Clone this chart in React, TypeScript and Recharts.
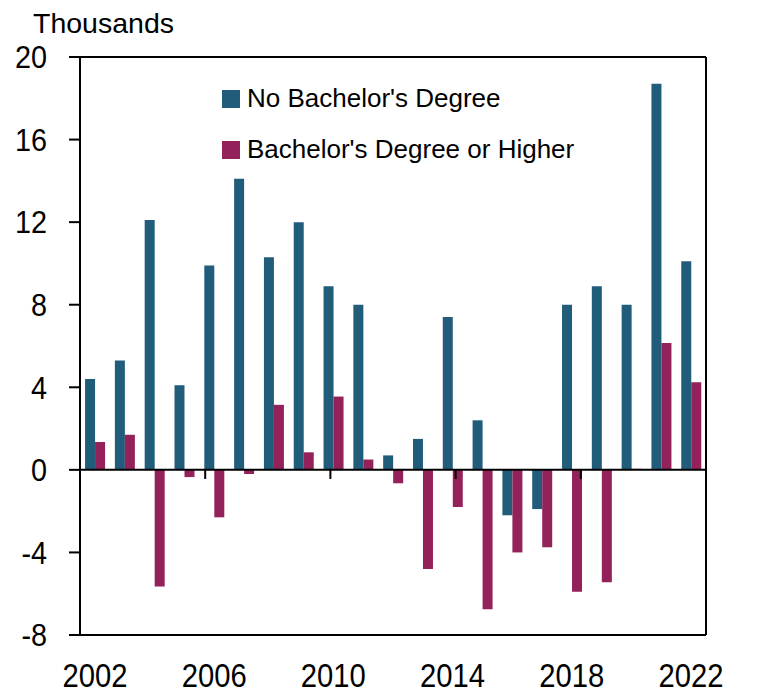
import React from 'react';
import { ComposedChart, Bar, XAxis, YAxis, ReferenceLine, Legend } from 'recharts';

const YEARS = ['2002', '2003', '2004', '2005', '2006', '2007', '2008', '2009', '2010', '2011', '2012', '2013', '2014', '2015', '2016', '2017', '2018', '2019', '2020', '2021', '2022'];
const NO_BACHELOR = [4.4, 5.3, 12.1, 4.1, 9.9, 14.1, 10.3, 12.0, 8.9, 8.0, 0.7, 1.5, 7.4, 2.4, -2.2, -1.9, 8.0, 8.9, 8.0, 18.7, 10.1];
const BACHELOR_PLUS = [1.35, 1.7, -5.65, -0.35, -2.3, -0.2, 3.15, 0.85, 3.55, 0.5, -0.65, -4.8, -1.8, -6.75, -4.0, -3.75, -5.9, -5.45, 0.05, 6.15, 4.25];
const Y_TICKS = [-8, -4, 0, 4, 8, 12, 16, 20];
const X_LABELS = ['2002', '2006', '2010', '2014', '2018', '2022'];
const SERIES_NAMES = ["No Bachelor's Degree", "Bachelor's Degree or Higher"];
const COLORS = ['#215C7A', '#93215A'];

const data = YEARS.map((year, i) => ({ year, noBachelor: NO_BACHELOR[i], bachelorPlus: BACHELOR_PLUS[i] }));
const boundaryTicks = YEARS.map((y, i) => (X_LABELS.includes(y) && i > 0 ? i : -1)).filter((v) => v >= 0);

const SANS = "'Liberation Sans', Arial, sans-serif";

const squeeze = (x: number, s: number) => `translate(${x},0) scale(${s},1) translate(${-x},0)`;

const YTick = (props: any) => {
  const { x, y, payload, textAnchor } = props;
  return (
    <text x={x} y={y} dy="0.355em" textAnchor={textAnchor} fill="#000" fontSize={32} fontFamily={SANS} transform={squeeze(x, 0.9)}>
      {payload.value}
    </text>
  );
};

const XTick = (props: any) => {
  const { x, y, payload } = props;
  return (
    <text x={x} y={y + 20} textAnchor="middle" fill="#000" fontSize={34} fontFamily={SANS} transform={squeeze(x, 0.86)}>
      {payload.value}
    </text>
  );
};

const LegendContent = (props: any) => {
  const payload = [...(props.payload || [])].sort(
    (a: any, b: any) => SERIES_NAMES.indexOf(a.value) - SERIES_NAMES.indexOf(b.value)
  );
  return (
    <div style={{ fontFamily: SANS, fontSize: 26, color: '#000' }}>
      {payload.map((p: any) => (
        <div key={p.value} style={{ display: 'flex', alignItems: 'center', height: 51, whiteSpace: 'nowrap' }}>
          <div style={{ width: 18, height: 18, background: p.color, marginRight: 7 }} />
          <span>{p.value}</span>
        </div>
      ))}
    </div>
  );
};

export default function App() {
  return (
    <div style={{ position: 'relative', width: 760, height: 687 }}>
      <div style={{ position: 'absolute', left: 25, top: 1, fontFamily: SANS, fontSize: 28.5, lineHeight: '28px', color: '#000' }}>
        Thousands
      </div>
      <ComposedChart
        width={760}
        height={687}
        data={data}
        margin={{ top: 49, right: 0, bottom: 0, left: 0 }}
        barCategoryGap="17%"
        barGap={0}
      >
        <XAxis
          dataKey="year"
          interval={3}
          tickLine={false}
          tickSize={0}
          tickMargin={32}
          height={60}
          axisLine={{ stroke: '#000', strokeWidth: 2 }}
          tick={XTick}
        />
        <XAxis xAxisId="n" type="number" domain={[0, YEARS.length]} hide />
        <YAxis
          yAxisId="left"
          domain={[-8, 20]}
          ticks={Y_TICKS}
          interval={0}
          width={72}
          tickSize={11}
          tickMargin={22}
          axisLine={{ stroke: '#000', strokeWidth: 2 }}
          tickLine={{ stroke: '#000', strokeWidth: 2 }}
          tick={YTick}
        />
        <YAxis
          yAxisId="right"
          orientation="right"
          domain={[-8, 20]}
          ticks={Y_TICKS}
          interval={0}
          width={62}
          tickSize={11}
          tickMargin={22}
          axisLine={{ stroke: '#000', strokeWidth: 2 }}
          tickLine={{ stroke: '#000', strokeWidth: 2 }}
          tick={YTick}
        />
        <Legend
          layout="vertical"
          align="center"
          verticalAlign="middle"
          wrapperStyle={{ top: 65, left: 214, width: 'auto' }}
          content={LegendContent}
        />
        <Bar yAxisId="left" dataKey="noBachelor" name={SERIES_NAMES[0]} fill={COLORS[0]} isAnimationActive={false} />
        <Bar yAxisId="left" dataKey="bachelorPlus" name={SERIES_NAMES[1]} fill={COLORS[1]} isAnimationActive={false} />
        <ReferenceLine yAxisId="left" y={0} stroke="#000" strokeWidth={2} />
        <ReferenceLine yAxisId="left" y={20} stroke="#000" strokeWidth={2} />
        {boundaryTicks.map((b) => (
          <ReferenceLine
            key={b}
            xAxisId="n"
            yAxisId="left"
            segment={[{ x: b, y: 0 }, { x: b, y: -0.44 }]}
            stroke="#000"
            strokeWidth={2}
          />
        ))}
      </ComposedChart>
    </div>
  );
}
